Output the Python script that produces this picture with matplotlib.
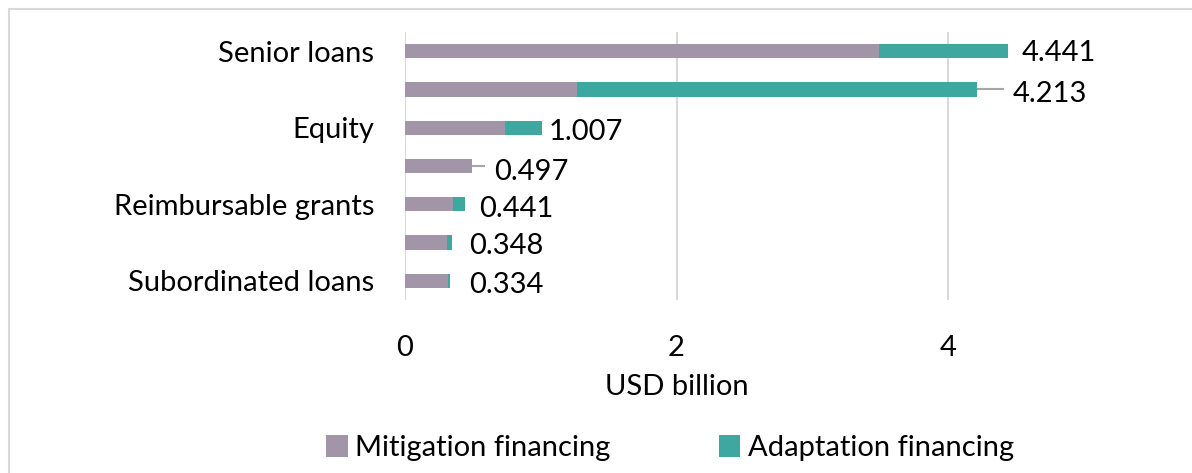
import numpy as np
import matplotlib.pyplot as plt
from matplotlib.patches import Rectangle

# data (USD billion)
categories = ["Senior loans", "", "Equity", "", "Reimbursable grants", "", "Subordinated loans"]
mitigation = [3.49, 1.27, 0.74, 0.497, 0.356, 0.307, 0.314]
adaptation = [0.951, 2.943, 0.267, 0.0, 0.085, 0.041, 0.020]
totals = ["4.441", "4.213", "1.007", "0.497", "0.441", "0.348", "0.334"]

# label placement (px from bar end), and which ones get a leader line
label_dx = [14, 36, 7, 22, 14, 17, 19]
label_dy = [-2, -5, -4, -6, -5, -3, -4]
leader = [False, True, False, True, False, False, False]

mit_col = '#A395A8'
ada_col = '#3EA79F'
FS = 21

plt.rcParams['font.family'] = ['Lato', 'DejaVu Sans']

fig = plt.figure(figsize=(11.92, 4.73), dpi=100)
ax = fig.add_axes([405/1192, 1 - 300/473, (5.5*135.75)/1192, 268/473])

y = np.arange(len(categories))
tot = np.array(mitigation) + np.array(adaptation)
ax.barh(y, mitigation, height=0.37, color=mit_col, label='Mitigation financing', zorder=3)
ax.barh(y, adaptation, left=mitigation, height=0.37, color=ada_col, label='Adaptation financing', zorder=3)

px = 1 / 135.75  # data units per pixel
for i in range(len(y)):
    if leader[i]:
        ax.plot([tot[i], tot[i] + (label_dx[i] - 10) * px], [y[i], y[i]], color='#A6A6A6', lw=1.5, zorder=2)
    ax.annotate(totals[i], (tot[i], y[i]), xytext=(label_dx[i] * 0.72, label_dy[i] * 0.72),
                textcoords='offset points', ha='left', va='center', fontsize=FS)

ax.set_xlim(0, 5.5)
ax.set_ylim(len(y) - 0.5, -0.5)
ax.set_xticks([0, 2, 4])
ax.set_yticks(y)
ax.set_yticklabels(categories, fontsize=FS)
ax.tick_params(axis='y', length=0, pad=22)
ax.tick_params(axis='x', length=0, pad=25, labelsize=FS)
ax.grid(axis='x', color='#D9D9D9', lw=1.5, zorder=0)
for s in ax.spines.values():
    s.set_visible(False)
ax.set_xlabel('USD billion', fontsize=FS)
ax.xaxis.set_label_coords((677 - 405) / (5.5*135.75), -0.275)

fig.legend(loc='center', bbox_to_anchor=(670/1192, 1 - 448/473), ncol=2, frameon=False,
           fontsize=FS, handlelength=0.75, handleheight=0.75, handletextpad=0.25, columnspacing=3.7)

# light chart-area border (cropped at right/bottom)
fig.patches.append(Rectangle((9/1192, -0.1), 1.2, 1 - 9/473 + 0.1, transform=fig.transFigure,
                             fill=False, edgecolor='#D9D9D9', lw=1.5))

fig.savefig('out.png', dpi=100)
